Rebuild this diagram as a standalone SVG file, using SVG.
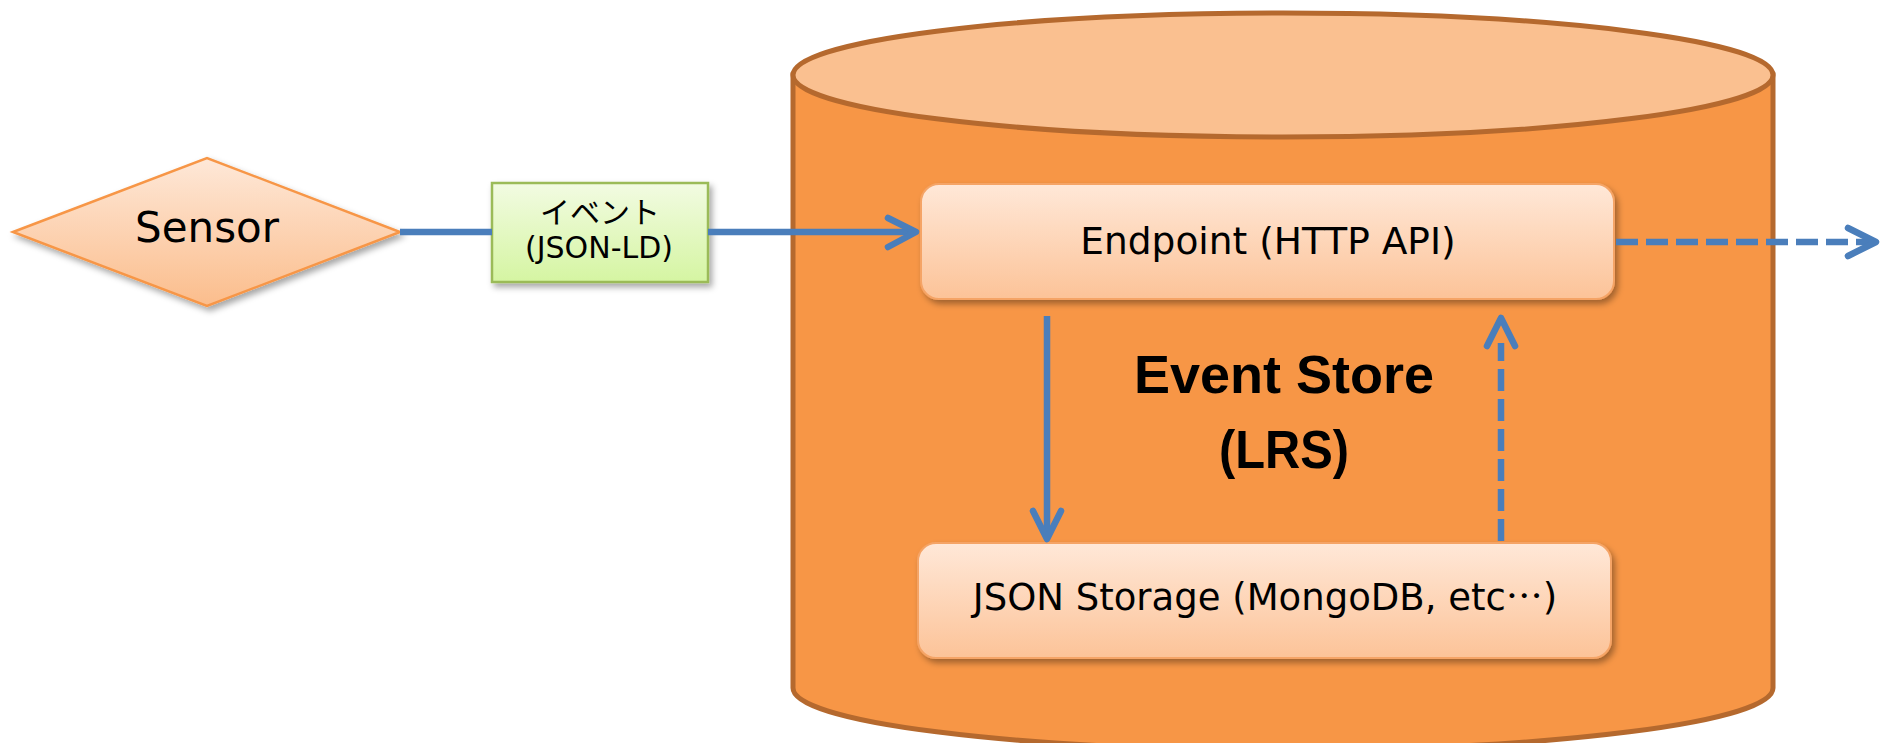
<svg xmlns="http://www.w3.org/2000/svg" width="1885" height="743" viewBox="0 0 1885 743">
<defs>
<style>
.t{font-family:"DejaVu Sans","Noto Sans CJK JP",sans-serif;fill:#000;text-anchor:middle}
.jp{font-family:"Noto Sans CJK JP",sans-serif;font-feature-settings:"fwid" 1}
.big{font-family:"Liberation Sans",Arial,sans-serif;font-weight:bold;font-size:54px;fill:#000;text-anchor:middle}
.con{fill:none;stroke:#4a7ebb;stroke-width:6.5}
.dash{stroke-dasharray:22 8}
.head{fill:none;stroke:#4a7ebb;stroke-width:6.5;stroke-linecap:round;stroke-linejoin:round}
.box{fill:url(#peach);stroke:#f5a466;stroke-width:2;filter:url(#sh)}
</style>
<linearGradient id="peach" x1="0" y1="0" x2="0" y2="1">
<stop offset="0" stop-color="#ffe8d8"/>
<stop offset="1" stop-color="#fcc398"/>
</linearGradient>
<linearGradient id="dia" x1="0" y1="0" x2="0" y2="1">
<stop offset="0" stop-color="#fee8d8"/>
<stop offset="1" stop-color="#fbbd8c"/>
</linearGradient>
<linearGradient id="green" x1="0" y1="0" x2="0" y2="1">
<stop offset="0" stop-color="#f2fbe2"/>
<stop offset="1" stop-color="#d5f5a2"/>
</linearGradient>
<filter id="sh" x="-10%" y="-20%" width="125%" height="150%">
<feDropShadow dx="3" dy="4" stdDeviation="3" flood-color="#000" flood-opacity="0.35"/>
</filter>
</defs>

<g id="event-store">
<path d="M793,75 V688 A490,62 0 0 0 1773,688 V75 Z" fill="#f79646" stroke="#b5692e" stroke-width="5"/>
<ellipse cx="1283" cy="75" rx="490" ry="62" fill="#fac090" stroke="#b5692e" stroke-width="5"/>
<text class="big" x="1284" y="393">Event Store</text>
<text class="big" x="1284" y="468" textLength="130" lengthAdjust="spacingAndGlyphs">(LRS)</text>
</g>

<g id="sensor">
<polygon points="13,232 207,158 400,232 207,306" fill="url(#dia)" stroke="#f79646" stroke-width="2.5" filter="url(#sh)"/>
<text class="t" x="207" y="242" font-size="42">Sensor</text>
</g>

<g id="event-label">
<rect x="492" y="183" width="216" height="99" fill="url(#green)" stroke="#9bbb59" stroke-width="2.5" filter="url(#sh)"/>
<text class="t" x="600" y="223" font-size="30">イベント</text>
<text class="t" x="599" y="258" font-size="30">(JSON-LD)</text>
</g>

<g id="endpoint">
<rect class="box" x="921" y="184" width="693" height="115" rx="18"/>
<text class="t" x="1268" y="254" font-size="37.5">Endpoint (HTTP API)</text>
</g>

<g id="storage">
<rect class="box" x="918" y="543" width="693" height="115" rx="18"/>
<text class="t" x="1265" y="610" font-size="37">JSON Storage (MongoDB, etc<tspan class="jp" xml:lang="ja">…</tspan>)</text>
</g>

<g id="connectors">
<line class="con" x1="400" y1="232" x2="492" y2="232"/>
<line class="con" x1="708" y1="232" x2="913" y2="232"/>
<polyline class="head" points="888,218 916,232 888,247"/>
<line class="con" x1="1047" y1="316" x2="1047" y2="536"/>
<polyline class="head" points="1033,511 1047,539 1061,511"/>
<line class="con dash" x1="1501" y1="541" x2="1501" y2="343"/>
<polyline class="head" points="1487,346 1501,318 1515,346"/>
<line class="con dash" x1="1616" y1="242" x2="1873" y2="242"/>
<polyline class="head" points="1848,228 1876,242 1848,256"/>
</g>
</svg>
